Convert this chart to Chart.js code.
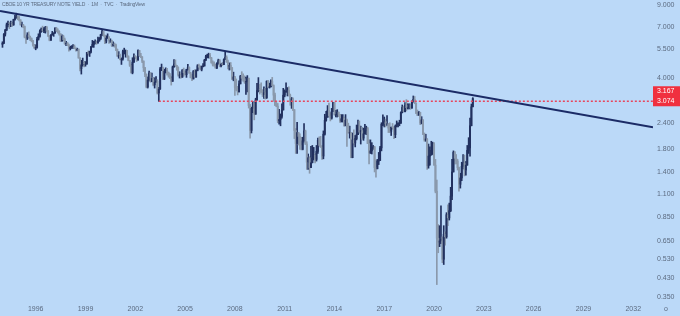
<!DOCTYPE html>
<html>
<head>
<meta charset="utf-8">
<script src="https://cdn.jsdelivr.net/npm/chart.js@4.4.0/dist/chart.umd.min.js"></script>
<style>
  html, body { margin: 0; padding: 0; background: #bbd9f8; }
  canvas { display: block; }
</style>
</head>
<body>
<canvas id="chart" width="680" height="316"></canvas>
<script>
// monthly candles, Jan 1994 .. May 2022 (open = previous close)
const startYear = 1994;
const firstOpen = 5.79;

const closes = [
    5.87, 6.49, 6.79, 7.20, 7.35, 7.27, 7.30, 7.20, 7.64, 7.78, 7.88, 7.82,
    7.60, 7.20, 7.20, 7.06, 6.28, 6.20, 6.43, 6.28, 6.17, 6.03, 5.74, 5.57,
    5.60, 6.13, 6.33, 6.67, 6.85, 6.73, 6.87, 7.00, 6.72, 6.37, 6.06, 6.42,
    6.52, 6.56, 6.92, 6.71, 6.69, 6.50, 6.01, 6.34, 6.10, 5.83, 5.87, 5.74,
    5.51, 5.62, 5.66, 5.67, 5.55, 5.45, 5.49, 4.98, 4.42, 4.61, 4.72, 4.65,
    4.65, 5.29, 5.24, 5.35, 5.62, 5.78, 5.90, 5.97, 5.88, 6.02, 6.19, 6.44,
    6.67, 6.41, 6.00, 6.21, 6.27, 6.03, 6.03, 5.72, 5.80, 5.75, 5.47, 5.11,
    5.11, 4.90, 4.92, 5.34, 5.38, 5.41, 5.05, 4.84, 4.59, 4.23, 4.75, 5.05,
    5.03, 4.86, 5.40, 5.09, 5.04, 4.80, 4.46, 4.14, 3.60, 3.89, 4.21, 3.82,
    3.96, 3.69, 3.80, 3.84, 3.37, 3.52, 4.41, 4.46, 3.94, 4.30, 4.33, 4.25,
    4.13, 3.97, 3.84, 4.50, 4.65, 4.58, 4.48, 4.12, 4.12, 4.02, 4.35, 4.22,
    4.13, 4.37, 4.48, 4.21, 3.99, 3.94, 4.28, 4.02, 4.33, 4.56, 4.49, 4.39,
    4.52, 4.55, 4.85, 5.05, 5.12, 5.14, 4.98, 4.73, 4.63, 4.60, 4.46, 4.70,
    4.83, 4.56, 4.64, 4.62, 4.89, 5.02, 4.76, 4.53, 4.58, 4.47, 3.94, 4.03,
    3.59, 3.51, 3.41, 3.73, 4.06, 3.97, 3.95, 3.81, 3.83, 3.97, 2.93, 2.22,
    2.84, 3.01, 2.66, 3.12, 3.46, 3.53, 3.48, 3.40, 3.31, 3.39, 3.20, 3.84,
    3.59, 3.61, 3.83, 3.66, 3.29, 2.95, 2.91, 2.47, 2.51, 2.60, 2.79, 3.29,
    3.42, 3.43, 3.47, 3.29, 3.06, 3.16, 2.80, 2.22, 1.92, 2.17, 2.08, 1.88,
    1.80, 1.98, 2.21, 1.91, 1.56, 1.64, 1.47, 1.55, 1.63, 1.69, 1.61, 1.76,
    1.99, 1.88, 1.85, 1.67, 2.13, 2.49, 2.58, 2.78, 2.61, 2.55, 2.74, 3.03,
    2.65, 2.65, 2.72, 2.65, 2.47, 2.53, 2.56, 2.34, 2.49, 2.34, 2.16, 2.17,
    1.64, 2.00, 1.93, 2.03, 2.12, 2.35, 2.18, 2.22, 2.04, 2.14, 2.21, 2.27,
    1.92, 1.73, 1.77, 1.83, 1.85, 1.47, 1.45, 1.58, 1.59, 1.83, 2.38, 2.44,
    2.45, 2.39, 2.39, 2.28, 2.20, 2.30, 2.29, 2.12, 2.33, 2.38, 2.41, 2.41,
    2.71, 2.87, 2.74, 2.95, 2.86, 2.86, 2.96, 2.86, 3.06, 3.14, 3.01, 2.69,
    2.63, 2.72, 2.41, 2.50, 2.13, 2.00, 2.02, 1.50, 1.67, 1.69, 1.78, 1.92,
    1.51, 1.13, 0.67, 0.64, 0.65, 0.66, 0.53, 0.70, 0.68, 0.87, 0.84, 0.91,
    1.07, 1.40, 1.74, 1.63, 1.58, 1.47, 1.22, 1.31, 1.49, 1.55, 1.43, 1.51,
    1.78, 1.83, 2.34, 2.89, 3.167
];

const highs = [
    5.96, 6.53, 6.84, 7.34, 7.51, 7.41, 7.50, 7.41, 7.66, 8.01, 8.19, 7.95,
    7.90, 7.62, 7.41, 7.23, 7.10, 6.28, 6.59, 6.65, 6.35, 6.22, 6.05, 5.79,
    5.76, 6.26, 6.51, 6.80, 6.95, 7.09, 6.98, 7.07, 7.08, 6.74, 6.38, 6.45,
    6.69, 6.59, 6.98, 7.00, 6.88, 6.74, 6.52, 6.43, 6.41, 6.21, 5.99, 5.91,
    5.80, 5.67, 5.71, 5.78, 5.75, 5.56, 5.55, 5.50, 5.00, 4.85, 4.97, 4.79,
    4.78, 5.30, 5.38, 5.37, 5.66, 6.05, 5.99, 6.09, 6.02, 6.27, 6.25, 6.48,
    6.79, 6.70, 6.42, 6.37, 6.51, 6.31, 6.16, 6.07, 5.95, 5.88, 5.80, 5.50,
    5.34, 5.20, 4.98, 5.43, 5.55, 5.44, 5.41, 5.10, 4.84, 4.65, 4.99, 5.21,
    5.11, 5.04, 5.44, 5.42, 5.24, 5.05, 4.82, 4.48, 4.17, 4.03, 4.30, 4.23,
    4.21, 4.01, 3.99, 4.04, 3.91, 3.59, 4.48, 4.65, 4.50, 4.39, 4.46, 4.43,
    4.25, 4.20, 4.04, 4.55, 4.89, 4.87, 4.58, 4.51, 4.27, 4.21, 4.37, 4.45,
    4.29, 4.39, 4.64, 4.51, 4.24, 4.15, 4.33, 4.37, 4.36, 4.62, 4.65, 4.56,
    4.55, 4.67, 4.90, 5.13, 5.19, 5.25, 5.24, 5.01, 4.82, 4.77, 4.65, 4.72,
    4.91, 4.90, 4.69, 4.74, 4.93, 5.32, 5.10, 4.86, 4.71, 4.73, 4.45, 4.25,
    4.06, 3.94, 3.63, 3.86, 4.10, 4.27, 4.17, 4.08, 4.02, 4.09, 3.98, 2.97,
    2.88, 3.06, 3.04, 3.18, 3.75, 4.00, 3.71, 3.77, 3.50, 3.61, 3.55, 3.86,
    3.88, 3.76, 3.90, 4.01, 3.69, 3.37, 3.08, 3.00, 2.81, 2.67, 2.99, 3.55,
    3.49, 3.77, 3.58, 3.61, 3.33, 3.21, 3.19, 2.79, 2.27, 2.43, 2.17, 2.14,
    2.06, 2.06, 2.40, 2.23, 1.96, 1.71, 1.66, 1.86, 1.88, 1.84, 1.72, 1.88,
    2.04, 2.07, 2.08, 1.87, 2.21, 2.66, 2.75, 2.93, 3.01, 2.71, 2.84, 3.04,
    3.01, 2.78, 2.80, 2.73, 2.66, 2.65, 2.65, 2.58, 2.65, 2.52, 2.41, 2.33,
    2.17, 2.16, 2.24, 2.10, 2.36, 2.49, 2.47, 2.33, 2.30, 2.28, 2.38, 2.33,
    2.30, 2.00, 2.00, 1.94, 1.88, 1.86, 1.60, 1.61, 1.74, 1.86, 2.42, 2.64,
    2.58, 2.52, 2.62, 2.40, 2.42, 2.31, 2.40, 2.32, 2.36, 2.47, 2.42, 2.49,
    2.73, 2.95, 2.91, 3.03, 3.13, 2.99, 2.99, 2.99, 3.09, 3.26, 3.24, 3.02,
    2.79, 2.74, 2.66, 2.59, 2.50, 2.16, 2.13, 2.03, 1.91, 1.85, 1.97, 1.95,
    1.94, 1.61, 1.28, 0.78, 0.77, 0.96, 0.68, 0.77, 0.72, 0.89, 0.97, 0.99,
    1.18, 1.61, 1.77, 1.76, 1.70, 1.61, 1.48, 1.38, 1.56, 1.70, 1.69, 1.57,
    1.88, 2.05, 2.55, 2.98, 3.20
];

const lows = [
    5.60, 5.83, 6.35, 6.75, 7.02, 6.89, 7.05, 7.07, 7.15, 7.58, 7.74, 7.61,
    7.51, 7.16, 7.03, 6.96, 6.22, 5.85, 6.11, 6.26, 6.04, 5.95, 5.67, 5.53,
    5.45, 5.55, 6.07, 6.28, 6.62, 6.67, 6.60, 6.56, 6.66, 6.30, 6.02, 6.05,
    6.42, 6.33, 6.56, 6.66, 6.56, 6.41, 5.97, 6.00, 6.02, 5.79, 5.71, 5.70,
    5.36, 5.44, 5.53, 5.54, 5.53, 5.37, 5.39, 4.96, 4.31, 4.16, 4.54, 4.50,
    4.54, 4.66, 5.13, 5.06, 5.26, 5.64, 5.60, 5.82, 5.79, 5.86, 5.99, 6.11,
    6.38, 6.33, 5.83, 5.88, 6.19, 5.85, 5.92, 5.65, 5.67, 5.61, 5.40, 5.05,
    4.96, 4.87, 4.63, 4.85, 5.20, 5.02, 5.02, 4.82, 4.53, 4.20, 4.17, 4.73,
    4.93, 4.78, 4.86, 5.05, 4.99, 4.72, 4.28, 4.04, 3.57, 3.56, 3.86, 3.80,
    3.82, 3.65, 3.56, 3.82, 3.33, 3.07, 3.51, 4.32, 3.91, 3.91, 4.21, 4.11,
    4.02, 3.96, 3.68, 3.83, 4.49, 4.52, 4.34, 4.06, 3.98, 3.97, 4.01, 4.06,
    4.12, 4.01, 4.35, 4.19, 3.99, 3.87, 3.95, 4.00, 4.02, 4.31, 4.40, 4.36,
    4.31, 4.50, 4.70, 4.84, 4.98, 4.97, 4.97, 4.69, 4.55, 4.54, 4.43, 4.42,
    4.64, 4.51, 4.50, 4.57, 4.62, 4.93, 4.74, 4.40, 4.35, 4.36, 3.91, 3.86,
    3.28, 3.46, 3.30, 3.42, 3.73, 3.89, 3.84, 3.75, 3.32, 3.41, 2.85, 2.04,
    2.16, 2.71, 2.50, 2.74, 3.11, 3.41, 3.33, 3.39, 3.24, 3.17, 3.15, 3.17,
    3.58, 3.56, 3.62, 3.64, 3.07, 2.93, 2.89, 2.42, 2.38, 2.34, 2.55, 2.79,
    3.23, 3.39, 3.26, 3.26, 2.94, 2.84, 2.77, 2.03, 1.72, 1.72, 1.89, 1.80,
    1.79, 1.79, 1.95, 1.90, 1.44, 1.44, 1.38, 1.47, 1.60, 1.60, 1.55, 1.58,
    1.72, 1.86, 1.84, 1.61, 1.62, 2.11, 2.46, 2.57, 2.58, 2.47, 2.52, 2.74,
    2.63, 2.58, 2.58, 2.59, 2.43, 2.44, 2.44, 2.33, 2.36, 1.86, 2.16, 2.04,
    1.64, 1.65, 1.89, 1.85, 2.00, 2.13, 2.15, 1.91, 2.01, 1.99, 2.15, 2.12,
    1.92, 1.53, 1.72, 1.71, 1.80, 1.40, 1.32, 1.45, 1.52, 1.59, 1.77, 2.34,
    2.31, 2.31, 2.35, 2.17, 2.17, 2.10, 2.25, 2.03, 2.05, 2.31, 2.31, 2.34,
    2.40, 2.70, 2.74, 2.73, 2.76, 2.82, 2.82, 2.81, 2.84, 3.04, 2.99, 2.68,
    2.62, 2.63, 2.37, 2.39, 2.12, 1.97, 1.97, 1.44, 1.46, 1.51, 1.70, 1.70,
    1.51, 1.11, 0.40, 0.57, 0.61, 0.63, 0.51, 0.50, 0.62, 0.67, 0.77, 0.82,
    0.90, 1.03, 1.40, 1.53, 1.53, 1.43, 1.13, 1.17, 1.27, 1.45, 1.34, 1.35,
    1.63, 1.72, 1.67, 2.34, 2.90
];

const yTicks = [0.35, 0.43, 0.53, 0.65, 0.85, 1.1, 1.4, 1.8, 2.4, 4, 5.5, 7, 9];
const xTicks = [1996, 1999, 2002, 2005, 2008, 2011, 2014, 2017, 2020, 2023, 2026, 2029, 2032];

// trend line through the 1994 / 2007 highs, and the June 2003 low level
const trendLine = [{ x: 1993.85, y: 8.39 }, { x: 2033.19, y: 2.30 }];
const supportLevel = 3.074;
const supportStart = 2003.42;
const lastPrice = 3.167;

const xMin = 1993.85, xMax = 2033.19;
const yMin = 0.3295, yMax = 9.483;

const upColor = '#22315f';
const downColor = '#8a99ac';
const textColor = '#5c6b80';

const wicks = [], bodies = [], colors = [];
let prev = firstOpen;
closes.forEach((c, i) => {
    const o = prev;
    const t = startYear + i / 12;
    wicks.push({ x: t, y: [Math.min(lows[i], o, c), Math.max(highs[i], o, c)] });
    bodies.push({ x: t, y: [Math.min(o, c), Math.max(o, c)] });
    colors.push(c >= o ? upColor : downColor);
    prev = c;
});

const decor = {
    id: 'decor',
    beforeDraw(chart) {
        const c = chart.ctx;
        c.save();
        c.fillStyle = '#bbd9f8';
        c.fillRect(0, 0, chart.width, chart.height);
        c.restore();
    },
    afterDraw(chart) {
        const c = chart.ctx;
        const y = chart.scales.y;
        const area = chart.chartArea;
        c.save();
        c.font = '5px "Liberation Sans"';
        c.letterSpacing = '-0.2px';
        c.fillStyle = textColor;
        c.textBaseline = 'middle';
        c.fillText('CBOE 10 YR TREASURY NOTE YIELD  ·  1M  ·  TVC  ·  TradingView', 2, 5);
        c.letterSpacing = '0px';

        // price boxes on the axis
        const yl = y.getPixelForValue(supportLevel);
        c.fillStyle = '#f0303f';
        c.fillRect(area.right, yl - 15, chart.width - area.right, 20);
        c.fillStyle = '#ffffff';
        c.font = '7px "Liberation Sans"';
        c.textAlign = 'left';
        c.fillText(lastPrice.toFixed(3), area.right + 4, yl - 10);
        c.fillText(supportLevel.toFixed(3), area.right + 4, yl);

        c.fillStyle = textColor;
        c.fillText('o', 664, 309);
        c.restore();
    }
};

new Chart(document.getElementById('chart'), {
    type: 'bar',
    data: {
        datasets: [{
            type: 'line',
            data: trendLine,
            borderColor: '#1b2b66',
            borderWidth: 2,
            pointRadius: 0,
            order: 1
        }, {
            type: 'line',
            data: [{ x: supportStart, y: supportLevel }, { x: xMax, y: supportLevel }],
            borderColor: '#e8455c',
            borderWidth: 1.5,
            borderDash: [2, 2],
            pointRadius: 0,
            order: 2
        }, {
            data: bodies,
            backgroundColor: colors,
            barThickness: 1.3,
            grouped: false,
            order: 3
        }, {
            data: wicks,
            backgroundColor: colors,
            barThickness: 1,
            grouped: false,
            order: 4
        }]
    },
    options: {
        responsive: false,
        animation: false,
        devicePixelRatio: 1,
        layout: { padding: 0 },
        scales: {
            x: {
                type: 'linear',
                offset: false,
                min: xMin,
                max: xMax,
                bounds: 'data',
                grid: { display: false, drawTicks: false },
                border: { display: false },
                afterBuildTicks: s => { s.ticks = xTicks.map(v => ({ value: v })); },
                afterFit: s => { s.height = 14; s.paddingLeft = 0; s.paddingRight = 0; },
                ticks: {
                    autoSkip: false,
                    maxRotation: 0,
                    padding: 3,
                    color: textColor,
                    font: { family: 'Liberation Sans', size: 7 },
                    callback: v => String(v)
                }
            },
            y: {
                type: 'logarithmic',
                position: 'right',
                min: yMin,
                max: yMax,
                bounds: 'data',
                grid: { display: false, drawTicks: false },
                border: { display: false },
                afterBuildTicks: s => { s.ticks = yTicks.map(v => ({ value: v })); },
                afterFit: s => { s.width = 27; s.paddingTop = 0; s.paddingBottom = 0; },
                ticks: {
                    autoSkip: false,
                    padding: 4,
                    color: textColor,
                    font: { family: 'Liberation Sans', size: 7 },
                    callback: v => Number(v).toFixed(3)
                }
            }
        },
        plugins: {
            legend: { display: false },
            tooltip: { enabled: false }
        }
    },
    plugins: [decor]
});
</script>
</body>
</html>
